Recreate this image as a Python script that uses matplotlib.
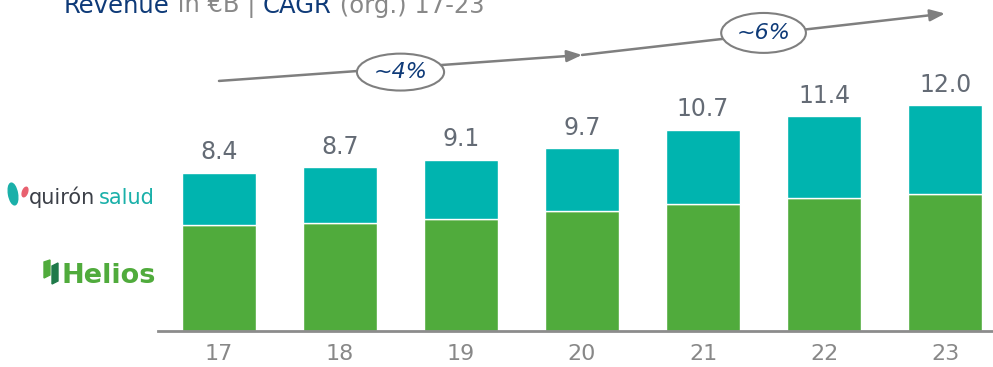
import numpy as np
import matplotlib
matplotlib.use("Agg")
import matplotlib.pyplot as plt
from matplotlib.patches import Ellipse, Polygon

# data
years = ["17", "18", "19", "20", "21", "22", "23"]
totals = [8.4, 8.7, 9.1, 9.7, 10.7, 11.4, 12.0]
helios = [5.63, 5.75, 5.95, 6.37, 6.74, 7.05, 7.29]
quiron = [t - h for t, h in zip(totals, helios)]
cagr_labels = ["~4%", "~6%"]

GREEN = "#50AB3C"
TEAL = "#00B4AF"
NAVY = "#0E3A78"
GREY = "#888888"
LABEL_GREY = "#646B75"

W, H = 993, 367
fig = plt.figure(figsize=(W / 100, H / 100), dpi=100)

# axes placed in pixels: left 158, right 993, baseline at 331 from top
ax = fig.add_axes([158 / W, (H - 331) / H, (W - 158) / W, 331 / H])
x = np.arange(len(years))
bw = 0.61
ax.bar(x, helios, bw, color=GREEN, edgecolor="white", linewidth=1.0, zorder=2)
ax.bar(x, quiron, bw, bottom=helios, color=TEAL, edgecolor="white", linewidth=1.0, zorder=2)

for xi, t in zip(x, totals):
    ax.annotate(f"{t:.1f}", (xi, t), xytext=(0, 6), textcoords="offset points",
                ha="center", va="bottom", fontsize=17, color=LABEL_GREY)

ax.set_xlim(-0.504, 6.396)
ax.set_ylim(0, 331 / 18.83)
ax.set_xticks(x)
ax.set_xticklabels(years, fontsize=16, color=GREY)
ax.tick_params(axis="x", length=0, pad=9)
ax.set_yticks([])
for s in ["top", "right", "left"]:
    ax.spines[s].set_visible(False)
ax.spines["bottom"].set_color("#8c8c8c")
ax.spines["bottom"].set_linewidth(2)

# CAGR arrows with ellipse badges
arrows = [((0.0, 13.28), (3.0, 14.66)), ((3.0, 14.66), (6.0, 16.86))]
badges = [(1.5, 13.75, 0.72, 1.96), (4.5, 15.83, 0.70, 2.12)]
for (p0, p1), (cx, cy, ew, eh), lab in zip(arrows, badges, cagr_labels):
    ax.annotate("", xy=p1, xytext=p0,
                arrowprops=dict(arrowstyle="-|>,head_length=0.9,head_width=0.35",
                                color="#7f7f7f", lw=1.8, shrinkA=0, shrinkB=0),
                annotation_clip=False, zorder=3)
    ax.add_patch(Ellipse((cx, cy), ew, eh, facecolor="white", edgecolor="#7f7f7f",
                         lw=1.5, zorder=4, clip_on=False))
    ax.text(cx, cy, lab, ha="center", va="center", fontsize=16, style="italic",
            color=NAVY, zorder=5)

# title, partly cut at the top like the source; pieces chained left to right
parts = [("Revenue", NAVY), (" in €B | ", GREY), ("CAGR", NAVY), (" (org.) 17-23", GREY)]
prev = None
for txt, col in parts:
    if prev is None:
        prev = ax.annotate(txt, xy=(64 / W, (H - 13) / H), xycoords="figure fraction",
                           fontsize=17.5, color=col, ha="left", va="baseline",
                           annotation_clip=False)
    else:
        prev = ax.annotate(txt, xy=(1, 0), xycoords=prev, fontsize=17.5, color=col,
                           ha="left", va="bottom", annotation_clip=False)

# logos, drawn roughly as text plus small shapes
lax = fig.add_axes([0, 0, 1, 1], zorder=-1)
lax.set_xlim(0, W)
lax.set_ylim(H, 0)
lax.axis("off")
lax.add_patch(Ellipse((13, 194), 9, 22, angle=-10, color="#1AB0A9"))
lax.add_patch(Ellipse((25, 192), 5, 10, angle=20, color="#E8606F"))
lax.text(29, 204, "quirón", fontsize=15, color="#3C4048", ha="left", va="baseline")
lax.text(99, 204, "salud", fontsize=15, color="#1AB0A9", ha="left", va="baseline")
lax.add_patch(Polygon([[44, 262], [50, 260], [50, 275], [44, 278]], color=GREEN))
lax.add_patch(Polygon([[52, 266], [58, 263], [58, 281], [52, 284]], color="#1F7A4A"))
lax.text(62, 283, "Helios", fontsize=19.5, fontweight="bold", color=GREEN,
         ha="left", va="baseline")

fig.savefig("out.png", dpi=100)
